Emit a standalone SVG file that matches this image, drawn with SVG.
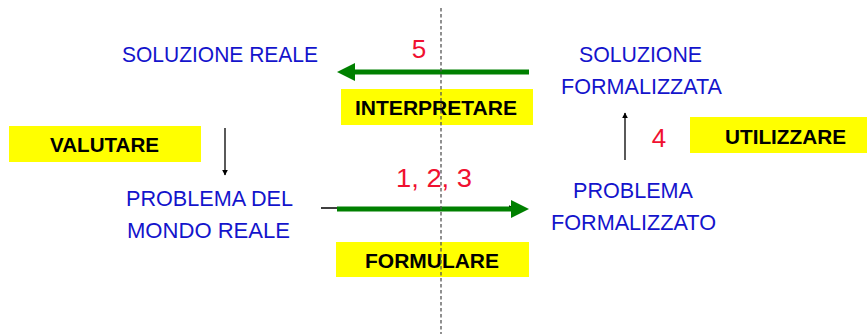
<svg xmlns="http://www.w3.org/2000/svg" width="867" height="334" viewBox="0 0 867 334">
<defs>
<style>
.blue{font-family:"Liberation Sans","Open Sans",sans-serif;font-size:22px;fill:#1414CC;text-anchor:middle}
.red{font-family:"Liberation Sans","Open Sans",sans-serif;font-size:26px;fill:#F01030;text-anchor:middle}
.lab{font-family:"Liberation Sans",Arial,sans-serif;font-size:20.5px;font-weight:bold;fill:#000;text-anchor:middle}
.box{fill:#FFFF00}
.green{stroke:#008000;stroke-width:5;fill:none}
.gh{fill:#008000}
.blk{stroke:#000;stroke-width:1.3;fill:none}
</style>
<marker id="ah" viewBox="0 0 10 10" refX="9" refY="5" markerWidth="6" markerHeight="6" markerUnits="userSpaceOnUse" orient="auto">
<path d="M0,0 L10,5 L0,10 z" fill="#000"/>
</marker>
</defs>
<rect width="867" height="334" fill="#fff"/>

<g id="node-soluzione-reale">
<text class="blue" x="220" y="62" textLength="196" lengthAdjust="spacingAndGlyphs">SOLUZIONE REALE</text>
</g>
<g id="node-soluzione-formalizzata">
<text class="blue" x="640.5" y="62" textLength="123" lengthAdjust="spacingAndGlyphs">SOLUZIONE</text>
<text class="blue" x="641.5" y="94" textLength="161" lengthAdjust="spacingAndGlyphs">FORMALIZZATA</text>
</g>
<g id="node-problema-reale">
<text class="blue" x="209.5" y="206" textLength="167" lengthAdjust="spacingAndGlyphs">PROBLEMA DEL</text>
<text class="blue" x="208.5" y="238" textLength="163" lengthAdjust="spacingAndGlyphs">MONDO REALE</text>
</g>
<g id="node-problema-formalizzato">
<text class="blue" x="633" y="198" textLength="120" lengthAdjust="spacingAndGlyphs">PROBLEMA</text>
<text class="blue" x="633.5" y="230" textLength="165" lengthAdjust="spacingAndGlyphs">FORMALIZZATO</text>
</g>

<g id="label-interpretare">
<rect class="box" x="341" y="89" width="192" height="36"/>
<text class="lab" x="436" y="115" textLength="162" lengthAdjust="spacingAndGlyphs">INTERPRETARE</text>
</g>
<g id="label-valutare">
<rect class="box" x="9" y="126" width="192" height="36"/>
<text class="lab" x="104.5" y="152" textLength="109" lengthAdjust="spacingAndGlyphs">VALUTARE</text>
</g>
<g id="label-formulare">
<rect class="box" x="336" y="242" width="193" height="35"/>
<text class="lab" x="432" y="268" textLength="134" lengthAdjust="spacingAndGlyphs">FORMULARE</text>
</g>
<g id="label-utilizzare">
<rect class="box" x="690" y="117" width="177" height="36"/>
<text class="lab" x="785.5" y="144" textLength="121" lengthAdjust="spacingAndGlyphs">UTILIZZARE</text>
</g>

<g id="numbers">
<text class="red" x="419" y="58">5</text>
<text class="red" x="434" y="187" textLength="76" lengthAdjust="spacingAndGlyphs">1, 2, 3</text>
<text class="red" x="659" y="147">4</text>
</g>

<g id="connectors">
<line class="blk" x1="321" y1="208" x2="514" y2="208" marker-end="url(#ah)"/>
<line class="green" x1="529" y1="72" x2="354" y2="72"/>
<polygon class="gh" points="337,72 355,63 355,81"/>
<line class="green" x1="337" y1="209" x2="512" y2="209"/>
<polygon class="gh" points="529,209 511,200 511,218"/>
<line class="blk" x1="225" y1="128" x2="225" y2="175" marker-end="url(#ah)"/>
<line class="blk" x1="625" y1="160" x2="625" y2="113" marker-end="url(#ah)"/>
<line x1="441" y1="8" x2="441" y2="334" stroke="#555" stroke-width="1.3" stroke-dasharray="3.5 2.5"/>
</g>
</svg>
